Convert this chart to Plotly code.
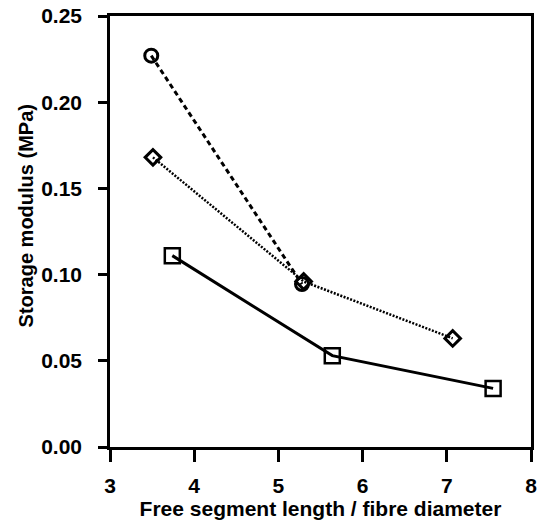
import plotly.graph_objects as go

# Free segment length / fibre diameter and storage modulus (MPa) per series
circle_x = [3.49, 5.28]
circle_y = [0.227, 0.0945]

diamond_x = [3.51, 5.30, 7.07]
diamond_y = [0.168, 0.096, 0.063]

square_x = [3.74, 5.64, 7.55]
square_y = [0.111, 0.053, 0.034]

x_ticks = [3, 4, 5, 6, 7, 8]
y_ticks = [0.0, 0.05, 0.10, 0.15, 0.20, 0.25]

FONT = "Liberation Sans, Arial, sans-serif"

fig = go.Figure()

fig.add_trace(go.Scatter(
    x=square_x, y=square_y, mode="lines+markers",
    line=dict(color="black", width=3),
    marker=dict(symbol="square-open", size=15, color="black",
                line=dict(color="black", width=2.5)),
    showlegend=False,
))
fig.add_trace(go.Scatter(
    x=diamond_x, y=diamond_y, mode="lines+markers",
    line=dict(color="black", width=2.5, dash="2px,1.5px"),
    marker=dict(symbol="diamond-open", size=12, color="black",
                line=dict(color="black", width=3)),
    showlegend=False,
))
fig.add_trace(go.Scatter(
    x=circle_x, y=circle_y, mode="lines+markers",
    line=dict(color="black", width=3, dash="5px,3.5px"),
    marker=dict(symbol="circle-open", size=13, color="black",
                line=dict(color="black", width=3)),
    showlegend=False,
))

axis_common = dict(
    showline=True, linecolor="black", linewidth=2.5, mirror=True,
    ticks="outside", tickcolor="black", tickwidth=2.5,
    showgrid=False, zeroline=False, automargin=False,
    tickfont=dict(family=FONT, size=21, color="black", weight="bold"),
)

fig.update_xaxes(
    range=[3, 8], tickvals=x_ticks, ticktext=[str(v) for v in x_ticks],
    ticklen=12, ticklabelstandoff=6,
    title=dict(text="Free segment length / fibre diameter", standoff=1,
               font=dict(family=FONT, size=21, color="black", weight="bold")),
    **axis_common,
)
fig.update_yaxes(
    range=[0, 0.25], tickvals=y_ticks, ticktext=[f"{v:.2f}" for v in y_ticks],
    ticklen=9, ticklabelstandoff=12,
    **axis_common,
)

# Vertical y-axis title, placed a little above the axis centre
fig.add_annotation(
    text="Storage modulus (MPa)", textangle=-90,
    xref="paper", yref="paper", x=0, y=0.535,
    xanchor="center", yanchor="middle", xshift=-84, showarrow=False,
    font=dict(family=FONT, size=20, color="black", weight="bold"),
)

fig.update_layout(
    width=544, height=528,
    margin=dict(l=110, r=13, t=16, b=81),
    paper_bgcolor="white", plot_bgcolor="white",
)

fig.write_html("out.html")
